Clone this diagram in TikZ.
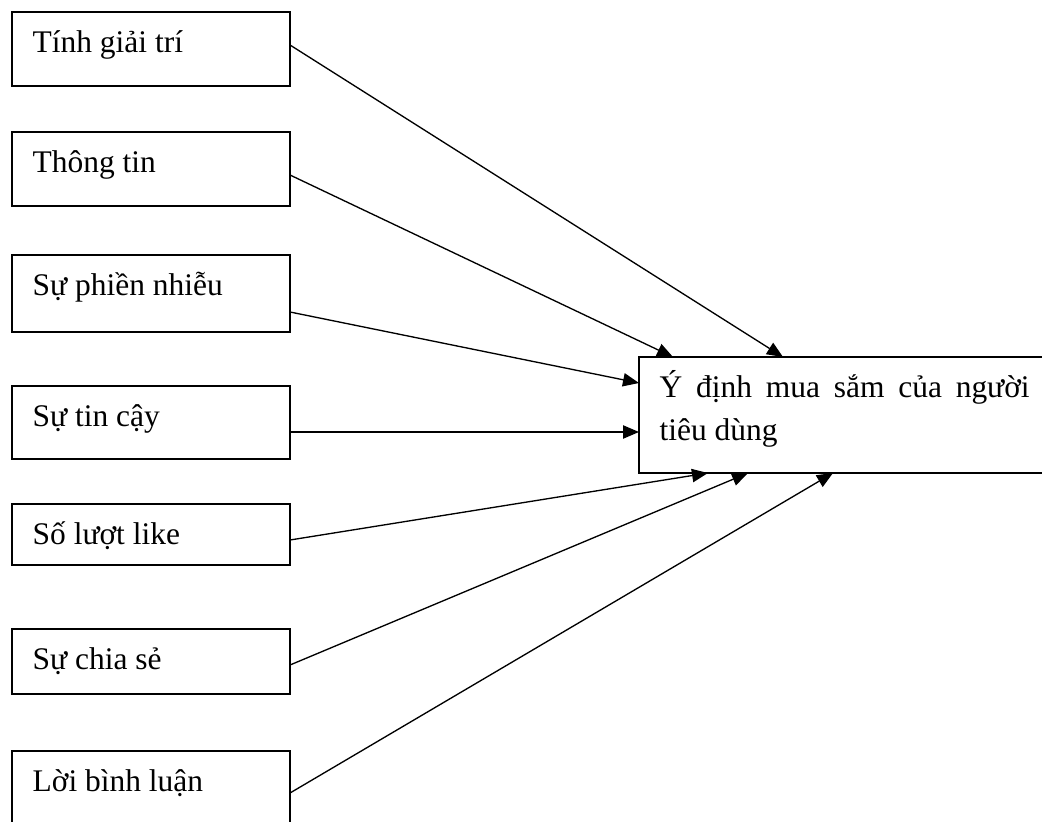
\documentclass[tikz,border=0pt]{standalone}
\usepackage{fontspec}
\setmainfont{Liberation Serif}
\usetikzlibrary{arrows.meta}
\begin{document}
\begin{tikzpicture}[x=0.75pt,y=-0.75pt,line width=1pt,
  factor/.style={draw,rectangle,minimum width=208.5pt,anchor=north west,inner sep=0pt,outer sep=0pt},
  boxtext/.style={label={[anchor=north west,inner sep=0pt,xshift=15pt,font=\fontsize{23.6}{32.25}\selectfont]north west:\rule{0pt}{30pt}#1}},
  arr/.style={-{Triangle[length=12pt,width=10pt]}}]
\useasboundingbox (0,0) rectangle (1042,821);
\clip (0,0) rectangle (1042,821);
\node[factor,minimum height=55.5pt,boxtext={Tính giải trí}] (f1) at (12,12) {};
\node[factor,minimum height=55.5pt,boxtext={Thông tin}] (f2) at (12,132) {};
\node[factor,minimum height=57.75pt,boxtext={Sự phiền nhiễu}] (f3) at (12,255) {};
\node[factor,minimum height=54.75pt,boxtext={Sự tin cậy}] (f4) at (12,386) {};
\node[factor,minimum height=45.75pt,boxtext={Số lượt like}] (f5) at (12,504) {};
\node[factor,minimum height=48.75pt,boxtext={Sự chia sẻ}] (f6) at (12,629) {};
\node[factor,minimum height=67.5pt,boxtext={Lời bình luận}] (f7) at (12,751) {};
\node[factor,minimum width=315.75pt,minimum height=87pt,
  label={[anchor=north west,inner sep=0pt,xshift=15pt,text width=277.5pt,align=justify,font=\fontsize{23.6}{32.25}\selectfont]north west:\rule{0pt}{30pt}Ý định mua sắm của người tiêu dùng}] (t) at (639,357) {};
\draw[arr] ([yshift=-24.75pt]f1.north east) -- ([xshift=108pt]t.north west);
\draw[arr] ([yshift=-32.25pt]f2.north east) -- ([xshift=25.5pt]t.north west);
\draw[arr] ([yshift=-42.75pt]f3.north east) -- ([yshift=-19.5pt]t.north west);
\draw[arr] ([yshift=-34.5pt]f4.north east) -- ([yshift=-56.25pt]t.north west);
\draw[arr] ([yshift=-27pt]f5.north east) -- ([xshift=51.75pt]t.south west);
\draw[arr] ([yshift=-27pt]f6.north east) -- ([xshift=81.75pt]t.south west);
\draw[arr] ([yshift=-31.5pt]f7.north east) -- ([xshift=145.5pt]t.south west);
\end{tikzpicture}
\end{document}
